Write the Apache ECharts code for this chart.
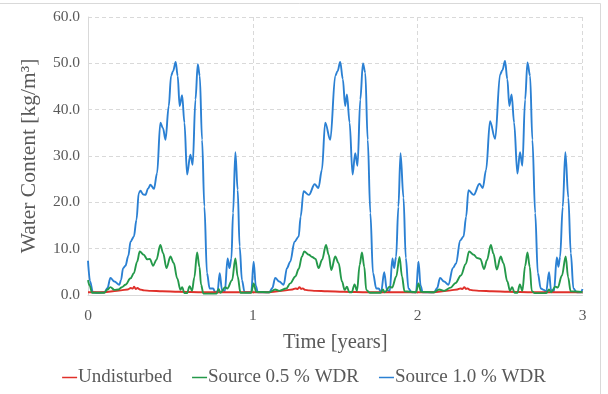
<!DOCTYPE html>
<html>
<head>
<meta charset="utf-8">
<script src="https://cdn.jsdelivr.net/npm/echarts@6/dist/echarts.min.js"></script>
<style>html,body{margin:0;padding:0;background:#fff;}#c{width:608px;height:394px;}</style>
</head>
<body>
<div id="c"></div>
<script>
// Tick labels
var xTicks = [0, 1, 2, 3];
var yTicks = [0, 10, 20, 30, 40, 50, 60];
var seriesNames = ['Undisturbed', 'Source 0.5 % WDR', 'Source 1.0 % WDR'];

// Undisturbed (red) [time in years, water content]
var redY1 = [[0,0.6],[0.1,0.6],[0.15,0.8],[0.2,1.0],[0.24,1.2],[0.26,1.5],[0.272,1.4],[0.28,1.8],[0.29,1.3],[0.3,1.5],[0.315,1.2],[0.34,1.0],[0.38,0.9],[0.45,0.8],[0.55,0.7],[0.7,0.6],[0.85,0.6],[0.99,0.6]];
var redY2 = [[1.0,0.6],[1.1,0.6],[1.15,0.8],[1.2,1.0],[1.24,1.2],[1.26,1.4],[1.272,1.3],[1.283,1.7],[1.293,1.3],[1.303,1.4],[1.318,1.1],[1.34,1.0],[1.38,0.9],[1.45,0.8],[1.55,0.7],[1.7,0.6],[1.85,0.6],[1.99,0.6]];
var redY3 = [[2.0,0.6],[2.1,0.6],[2.15,0.8],[2.2,1.0],[2.24,1.2],[2.26,1.4],[2.272,1.3],[2.283,1.7],[2.293,1.3],[2.303,1.4],[2.318,1.1],[2.34,1.0],[2.38,0.9],[2.45,0.8],[2.55,0.7],[2.7,0.6],[2.85,0.6],[3.0,0.6]];

// Source 0.5 % WDR (green)
var greenY1 = [[0,3.2],[0.01,2.0],[0.025,0.5],[0.1,0.5],[0.118,1.2],[0.136,1.7],[0.16,1.1],[0.185,1.2],[0.207,1.7],[0.227,2.2],[0.258,3.6],[0.278,4.7],[0.298,7.2],[0.314,9.4],[0.338,8.7],[0.359,7.7],[0.375,7.8],[0.395,6.3],[0.415,7.6],[0.439,10.8],[0.456,9.0],[0.476,5.8],[0.5,8.3],[0.52,6.9],[0.541,3.6],[0.561,1.1],[0.571,1.7],[0.585,0.4],[0.6,0.4],[0.617,1.9],[0.631,0.9],[0.645,3.8],[0.662,9.2],[0.676,6.1],[0.686,2.2],[0.7,0.3],[0.78,0.3],[0.793,1.3],[0.803,0.5],[0.833,1.7],[0.845,1.4],[0.874,3.2],[0.894,7.9],[0.908,4.0],[0.925,0.5],[0.99,0.5]];
var greenY2 = [[1.005,2.5],[1.02,0.7],[1.1,0.6],[1.136,1.2],[1.16,0.9],[1.203,1.4],[1.227,2.5],[1.258,4.0],[1.278,5.6],[1.298,8.3],[1.312,9.4],[1.34,8.7],[1.36,8.2],[1.38,7.8],[1.399,5.8],[1.42,7.6],[1.444,10.8],[1.46,8.7],[1.476,5.4],[1.5,8.3],[1.52,6.9],[1.541,2.9],[1.557,1.1],[1.571,1.8],[1.585,0.6],[1.6,0.6],[1.617,2.3],[1.632,0.9],[1.648,6.5],[1.662,9.2],[1.676,6.1],[1.688,1.1],[1.71,0.5],[1.775,0.5],[1.789,1.2],[1.8,0.6],[1.83,1.8],[1.845,1.6],[1.87,4.0],[1.89,8.2],[1.905,4.0],[1.92,0.8],[1.99,0.6]];
var greenY3 = [[2.005,2.5],[2.02,0.7],[2.1,0.6],[2.13,1.2],[2.16,0.9],[2.2,1.6],[2.23,2.6],[2.262,4.2],[2.292,6.7],[2.312,9.4],[2.34,8.7],[2.36,8.0],[2.38,7.8],[2.403,5.6],[2.42,7.5],[2.444,10.8],[2.46,8.9],[2.48,5.5],[2.504,8.3],[2.52,6.9],[2.544,2.9],[2.56,0.9],[2.573,1.7],[2.588,0.5],[2.605,0.5],[2.62,2.3],[2.635,0.9],[2.652,6.3],[2.666,9.2],[2.68,6.1],[2.692,0.9],[2.71,0.4],[2.78,0.4],[2.797,1.2],[2.81,0.6],[2.835,1.8],[2.85,1.6],[2.875,4.2],[2.898,8.3],[2.913,3.8],[2.928,0.8],[3.0,0.6]];

// Source 1.0 % WDR (blue)
var blueY1 = [[0,7.4],[0.012,3.0],[0.03,0.6],[0.06,0.5],[0.1,0.6],[0.118,1.5],[0.136,3.7],[0.16,2.9],[0.19,2.2],[0.2,3.2],[0.213,5.8],[0.227,6.3],[0.245,8.5],[0.258,11.5],[0.278,12.6],[0.294,16.2],[0.308,22.0],[0.318,22.5],[0.335,21.7],[0.348,21.6],[0.365,23.0],[0.379,23.8],[0.4,22.9],[0.419,26.3],[0.439,37.2],[0.455,36.0],[0.47,33.5],[0.49,40.8],[0.504,47.3],[0.516,48.3],[0.532,50.3],[0.544,47.3],[0.556,40.8],[0.571,43.1],[0.585,37.2],[0.601,26.0],[0.621,30.3],[0.635,28.1],[0.652,42.2],[0.666,49.8],[0.678,47.3],[0.692,33.5],[0.706,19.1],[0.722,4.7],[0.738,1.4],[0.759,1.4],[0.772,0.6],[0.786,0.8],[0.799,4.7],[0.813,1.1],[0.83,0.8],[0.847,7.9],[0.858,5.8],[0.87,7.9],[0.88,17.7],[0.894,30.8],[0.908,22.7],[0.92,10.5],[0.934,3.2],[0.95,0.6],[0.99,0.6]];
var blueY2 = [[1.005,7.2],[1.018,2.0],[1.03,0.6],[1.1,0.6],[1.118,1.5],[1.136,3.7],[1.16,2.9],[1.187,2.2],[1.207,5.8],[1.227,7.2],[1.253,11.5],[1.278,12.6],[1.29,16.9],[1.308,22.4],[1.34,21.6],[1.375,23.9],[1.398,23.1],[1.419,27.0],[1.439,37.2],[1.47,33.5],[1.5,47.3],[1.514,48.3],[1.53,50.3],[1.546,46.6],[1.56,40.8],[1.571,43.3],[1.587,37.2],[1.605,26.0],[1.621,30.6],[1.635,27.9],[1.652,42.2],[1.668,50.0],[1.682,48.0],[1.697,33.5],[1.713,17.7],[1.729,4.7],[1.749,1.4],[1.763,1.4],[1.778,0.6],[1.797,4.9],[1.813,1.1],[1.83,0.8],[1.847,7.9],[1.857,5.8],[1.869,8.2],[1.883,19.0],[1.896,30.6],[1.914,21.0],[1.928,8.0],[1.944,1.4],[1.964,0.6],[1.99,0.6]];
var blueY3 = [[2.005,7.2],[2.018,2.0],[2.03,0.6],[2.1,0.6],[2.118,1.5],[2.136,3.7],[2.16,2.9],[2.187,2.2],[2.213,5.8],[2.233,6.8],[2.258,11.8],[2.278,12.6],[2.294,16.9],[2.308,22.6],[2.34,21.6],[2.375,24.0],[2.395,23.1],[2.415,27.0],[2.439,37.5],[2.47,33.7],[2.5,47.6],[2.514,48.5],[2.53,50.5],[2.544,46.6],[2.556,40.8],[2.57,43.3],[2.585,37.2],[2.605,26.2],[2.621,30.8],[2.635,27.9],[2.652,42.2],[2.666,50.2],[2.682,47.3],[2.696,33.5],[2.713,17.7],[2.729,4.7],[2.747,1.4],[2.767,1.1],[2.779,0.6],[2.797,4.9],[2.809,1.1],[2.827,0.8],[2.844,8.1],[2.854,6.1],[2.864,8.2],[2.88,19.0],[2.896,30.8],[2.914,21.0],[2.929,9.0],[2.945,1.4],[2.965,0.6],[2.99,0.6],[3.0,1.3]];

var redData = redY1.concat(redY2, redY3);
var greenData = greenY1.concat(greenY2, greenY3);
var blueData = blueY1.concat(blueY2, blueY3);

var FONT = '"Liberation Serif", "Times New Roman", serif';
var TXT = '#595959';

function mkSeries(name, data, color, z) {
  return {
    name: name, type: 'line', data: data, showSymbol: false, symbol: 'none',
    smooth: 0.35, smoothMonotone: 'x', z: z,
    lineStyle: { color: color, width: 1.9 }, itemStyle: { color: color },
    animation: false
  };
}

var chart = echarts.init(document.getElementById('c'), null, { renderer: 'canvas' });
chart.setOption({
  backgroundColor: '#ffffff',
  animation: false,
  graphic: [{
    type: 'rect', shape: { x: -2, y: 3.5, width: 602.5, height: 400 },
    style: { fill: 'none', stroke: '#d9d9d9', lineWidth: 1 }, silent: true, z: -1
  }],
  grid: { left: 88, right: 25.5, top: 17, bottom: 99, containLabel: false },
  xAxis: {
    type: 'value', min: xTicks[0], max: xTicks[xTicks.length - 1], interval: 1,
    name: 'Time [years]', nameLocation: 'middle', nameGap: 37,
    nameTextStyle: { fontFamily: FONT, fontSize: 20.5, color: TXT },
    axisLine: { show: true, lineStyle: { color: '#d9d9d9', width: 1 } },
    axisTick: { show: false },
    axisLabel: { fontFamily: FONT, fontSize: 15.5, color: TXT, margin: 13 },
    splitLine: { show: true, lineStyle: { color: '#d9d9d9', type: [4, 3], width: 1 } }
  },
  yAxis: {
    type: 'value', min: yTicks[0], max: yTicks[yTicks.length - 1], interval: 10,
    name: 'Water Content [kg/m³]', nameLocation: 'middle', nameGap: 48,
    nameTextStyle: { fontFamily: FONT, fontSize: 21.5, color: TXT },
    axisLine: { show: true, lineStyle: { color: '#d9d9d9', width: 1 } },
    axisTick: { show: false },
    axisLabel: { fontFamily: FONT, fontSize: 15.5, color: TXT, margin: 8,
      formatter: function (v) { return v.toFixed(1); } },
    splitLine: { show: true, lineStyle: { color: '#d9d9d9', type: [4, 3], width: 1 } }
  },
  legend: {
    data: seriesNames, bottom: 2, left: 'center', itemWidth: 15, itemHeight: 8, itemGap: 20,
    icon: 'path://M0,4 L16,4 L16,5.6 L0,5.6 Z',
    textStyle: { fontFamily: FONT, fontSize: 19, color: TXT, padding: [0, 0, 0, -4] }
  },
  series: [
    mkSeries(seriesNames[0], redData, '#e0302a', 3),
    mkSeries(seriesNames[1], greenData, '#24994a', 4),
    mkSeries(seriesNames[2], blueData, '#2b80d3', 2)
  ]
});
</script>
</body>
</html>
